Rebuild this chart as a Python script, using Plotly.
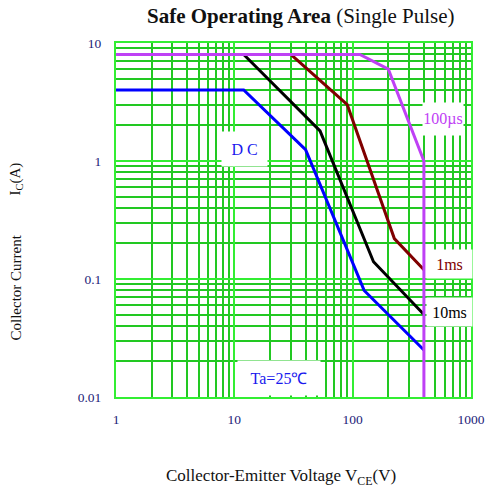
import math
import plotly.graph_objects as go

# Safe operating area boundaries (single pulse), VCE in volts, IC in amperes
vce_100us = [1, 115, 200, 400, 400]
ic_100us = [8, 8, 6, 1, 0.01]

vce_1ms = [30, 90, 225, 400]
ic_1ms = [8, 3, 0.22, 0.12]

vce_10ms = [12, 53, 150, 400]
ic_10ms = [8, 1.8, 0.14, 0.05]

vce_dc = [1, 12, 40, 125, 400]
ic_dc = [4, 4, 1.25, 0.08, 0.025]

x_ticks = [1, 10, 100, 1000]
x_tick_labels = ["1", "10", "100", "1000"]
y_ticks = [0.01, 0.1, 1, 10]
y_tick_labels = ["0.01", "0.1", "1", "10"]

SERIF = "Liberation Serif"
TICK_COLOR = "#1c1c78"
MAJOR_GRID = "#33ee33"
MINOR_GRID = "#22c822"

fig = go.Figure()

series = [
    (vce_dc, ic_dc, "#0000ff"),
    (vce_10ms, ic_10ms, "#000000"),
    (vce_1ms, ic_1ms, "#800000"),
    (vce_100us, ic_100us, "#bf40f5"),
]
for xs, ys, color in series:
    fig.add_trace(go.Scatter(x=xs, y=ys, mode="lines",
                             line=dict(color=color, width=3),
                             showlegend=False, hoverinfo="skip"))

axis_common = dict(
    type="log", automargin=False,
    showgrid=True, gridcolor=MAJOR_GRID, gridwidth=2,
    showline=True, linecolor=MAJOR_GRID, linewidth=2, mirror=True,
    zeroline=False, ticks="",
    tickfont=dict(family=SERIF, size=13.5, color=TICK_COLOR),
    minor=dict(dtick="D1", showgrid=True, gridcolor=MINOR_GRID, gridwidth=1.5, ticks=""),
)

fig.update_xaxes(range=[0, 3], tickvals=x_ticks, ticktext=x_tick_labels,
                 ticklabelstandoff=9, **axis_common)
fig.update_yaxes(range=[-2, 1], tickvals=y_ticks, ticktext=y_tick_labels,
                 ticklabelstandoff=10, **axis_common)

def label(text, v, i, color, w, h):
    # curve label on a white box that hides the grid behind it;
    # annotation positions on log axes are given in decades
    fig.add_annotation(x=math.log10(v), y=math.log10(i), xref="x", yref="y",
                       xanchor="center", yanchor="middle",
                       text=text, showarrow=False, width=w, height=h,
                       font=dict(family=SERIF, size=16, color=color),
                       bgcolor="white", borderpad=0)

label("100µs", 581, 2.26, "#bf40f5", 40, 32)
label("1ms", 656, 0.134, "#800000", 45, 28)
label("10ms", 656, 0.0525, "#000000", 45, 28)
label("D C", 12.1, 1.26, "#1a1aee", 45, 34)
label("Ta=25℃", 23.9, 0.0145, "#1a1aee", 82, 34)

def paper_text(text, x, y, size, angle=0):
    fig.add_annotation(x=x, y=y, xref="paper", yref="paper", showarrow=False,
                       xanchor="center", yanchor="middle", textangle=angle,
                       text=text, font=dict(family=SERIF, size=size, color="#111111"))

# Title and axis titles
paper_text("<b>Safe Operating Area</b> (Single Pulse)", 0.521, 1.076, 21)
paper_text("Collector-Emitter Voltage V<sub>CE</sub>(V)", 0.466, -0.226, 17)
paper_text("Collector Current", -0.282, 0.309, 15, angle=-90)
paper_text("I<sub>C</sub>(A)", -0.282, 0.617, 15, angle=-90)

fig.update_layout(
    width=487, height=491,
    margin=dict(l=116, r=16, t=43, b=94),
    paper_bgcolor="white", plot_bgcolor="white",
)

fig.write_html("out.html")
